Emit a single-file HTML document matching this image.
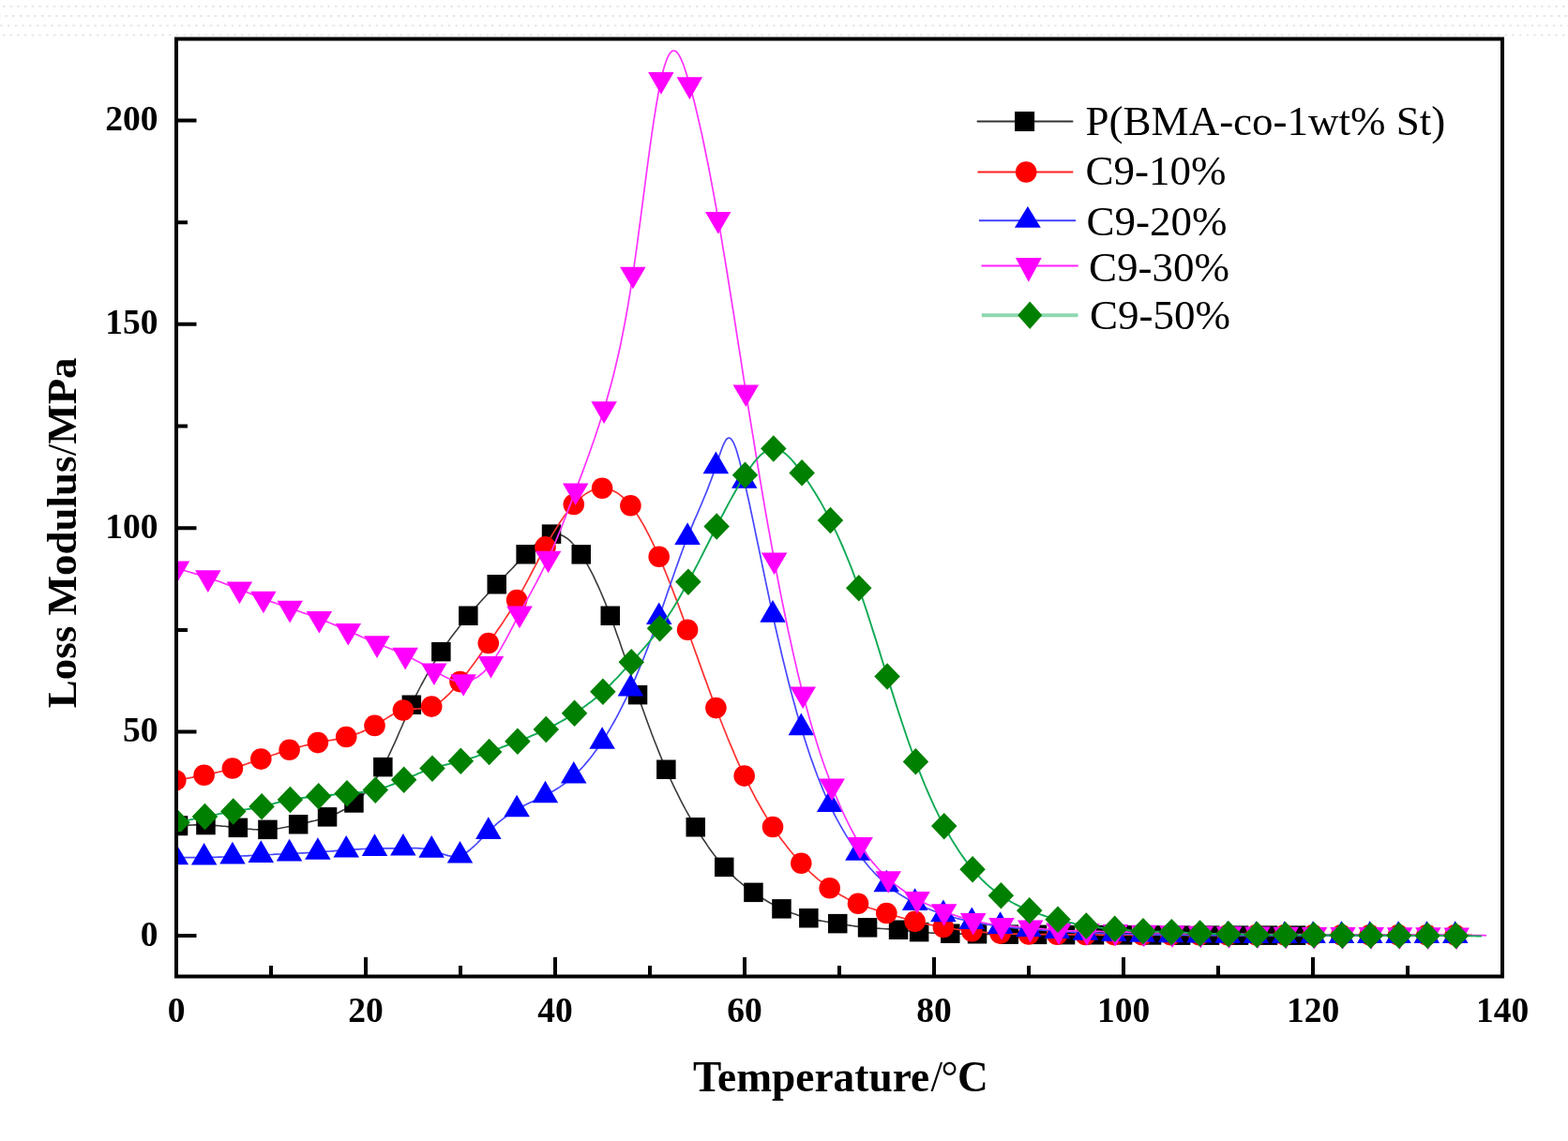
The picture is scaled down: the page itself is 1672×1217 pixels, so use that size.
<!DOCTYPE html><html><head><meta charset="utf-8"><style>html,body{margin:0;padding:0;background:#fff}svg{display:block}</style></head><body><svg width="1672" height="1217" viewBox="0 0 1672 1217">
<rect width="1672" height="1217" fill="#fff"/>
<defs><pattern id="dt" x="0" y="0" width="7.7" height="10" patternUnits="userSpaceOnUse"><rect x="2.9" y="0" width="2.4" height="2.4" fill="#e4e4e4"/></pattern></defs>
<g transform="translate(0,5.6)"><rect x="-8" y="0" width="1688" height="2.4" fill="url(#dt)"/></g>
<g transform="translate(2.6,16.0)"><rect x="-8" y="0" width="1688" height="2.4" fill="url(#dt)"/></g>
<g transform="translate(-2.6,26.2)"><rect x="-8" y="0" width="1688" height="2.4" fill="url(#dt)"/></g>
<g transform="translate(0,36.3)"><rect x="-8" y="0" width="1688" height="2.4" fill="url(#dt)"/></g>
<defs><clipPath id="pa"><rect x="188.0" y="41.5" width="1414.0" height="1000.0"/></clipPath></defs>
<g clip-path="url(#pa)">
<path d="M190.0,880.5 L192.5,880.4 L194.9,880.3 L197.4,880.2 L199.8,880.1 L202.3,880.1 L204.8,880.0 L207.2,879.9 L209.7,879.9 L212.1,879.9 L214.6,879.9 L217.0,879.9 L219.5,880.0 L222.4,880.1 L225.2,880.2 L228.1,880.4 L230.9,880.6 L233.8,880.8 L236.7,881.1 L239.5,881.3 L242.4,881.6 L245.2,881.9 L248.1,882.2 L250.9,882.6 L253.8,882.9 L256.4,883.2 L259.1,883.5 L261.7,883.8 L264.4,884.1 L267.0,884.3 L269.6,884.6 L272.3,884.8 L274.9,884.9 L277.6,885.0 L280.2,885.0 L282.9,885.0 L285.5,884.9 L288.2,884.7 L290.9,884.5 L293.7,884.1 L296.4,883.7 L299.1,883.3 L301.9,882.8 L304.6,882.3 L307.3,881.7 L310.0,881.1 L312.8,880.5 L315.5,879.9 L318.2,879.3 L320.8,878.7 L323.3,878.2 L325.9,877.6 L328.5,877.0 L331.0,876.4 L333.6,875.8 L336.2,875.2 L338.7,874.5 L341.3,873.8 L343.9,873.0 L346.4,872.2 L349.0,871.4 L351.4,870.6 L353.8,869.7 L356.1,868.7 L358.5,867.7 L360.9,866.7 L363.2,865.5 L365.6,864.2 L368.0,862.9 L370.4,861.5 L372.8,859.9 L375.1,858.3 L377.5,856.5 L380.1,854.4 L382.6,852.2 L385.2,849.8 L387.8,847.2 L390.4,844.4 L392.9,841.4 L395.5,838.2 L398.1,834.7 L400.7,831.0 L403.2,827.0 L405.8,822.7 L408.4,818.1 L410.9,813.3 L413.5,808.2 L416.0,802.9 L418.5,797.4 L421.1,791.8 L423.6,786.1 L426.1,780.3 L428.7,774.5 L431.2,768.6 L433.7,762.9 L436.3,757.2 L438.8,751.7 L441.4,746.1 L444.1,740.7 L446.7,735.5 L449.3,730.5 L452.0,725.6 L454.6,720.8 L457.2,716.2 L459.9,711.8 L462.5,707.4 L465.1,703.2 L467.8,699.1 L470.4,695.1 L472.8,691.5 L475.2,688.0 L477.6,684.6 L480.0,681.3 L482.4,678.0 L484.9,674.8 L487.3,671.7 L489.7,668.6 L492.1,665.6 L494.5,662.6 L496.9,659.7 L499.3,656.8 L501.8,653.8 L504.4,650.9 L506.9,648.0 L509.5,645.1 L512.0,642.3 L514.5,639.5 L517.1,636.7 L519.6,634.0 L522.2,631.2 L524.7,628.5 L527.3,625.9 L529.8,623.2 L532.4,620.5 L534.9,617.9 L537.5,615.2 L540.1,612.5 L542.6,609.9 L545.2,607.2 L547.8,604.6 L550.3,601.9 L552.9,599.3 L555.5,596.6 L558.0,593.9 L560.6,591.2 L562.9,588.8 L565.2,586.4 L567.5,584.0 L569.7,581.8 L572.0,579.6 L574.3,577.5 L576.6,575.7 L578.9,574.0 L581.1,572.5 L583.4,571.2 L585.7,570.3 L588.0,569.6 L590.6,569.2 L593.3,569.3 L596.0,569.8 L598.6,570.7 L601.2,572.0 L603.9,573.7 L606.5,575.7 L609.2,578.2 L611.8,581.0 L614.5,584.1 L617.1,587.6 L619.8,591.4 L622.4,595.4 L624.9,599.7 L627.5,604.3 L630.1,609.1 L632.7,614.2 L635.2,619.6 L637.8,625.2 L640.4,631.0 L643.0,637.1 L645.6,643.4 L648.1,650.0 L650.7,656.7 L653.1,663.3 L655.6,670.0 L658.0,676.9 L660.5,683.8 L662.9,690.9 L665.4,698.0 L667.8,705.2 L670.2,712.4 L672.7,719.7 L675.1,726.8 L677.6,734.0 L680.0,741.1 L682.5,748.4 L685.1,755.6 L687.6,762.6 L690.1,769.6 L692.7,776.5 L695.2,783.2 L697.7,789.8 L700.3,796.3 L702.8,802.6 L705.3,808.8 L707.9,814.9 L710.4,820.8 L713.0,826.7 L715.6,832.5 L718.2,838.1 L720.9,843.6 L723.5,848.9 L726.1,854.1 L728.7,859.1 L731.3,864.0 L733.9,868.7 L736.6,873.4 L739.2,877.9 L741.8,882.3 L744.3,886.5 L746.9,890.5 L749.4,894.5 L752.0,898.3 L754.5,902.1 L757.0,905.7 L759.6,909.2 L762.1,912.6 L764.7,915.9 L767.2,919.0 L769.8,922.0 L772.3,924.9 L774.9,927.7 L777.5,930.4 L780.1,933.0 L782.7,935.4 L785.3,937.8 L787.9,940.0 L790.5,942.2 L793.1,944.3 L795.7,946.3 L798.3,948.2 L800.9,950.1 L803.5,951.9 L806.0,953.6 L808.5,955.3 L811.0,956.9 L813.5,958.5 L816.0,960.0 L818.5,961.5 L821.0,963.0 L823.5,964.4 L826.0,965.7 L828.5,967.0 L831.0,968.2 L833.5,969.4 L835.9,970.5 L838.3,971.5 L840.7,972.5 L843.1,973.4 L845.5,974.3 L848.0,975.1 L850.4,975.9 L852.8,976.7 L855.2,977.4 L857.6,978.1 L860.0,978.7 L862.4,979.3 L865.0,979.9 L867.5,980.5 L870.1,981.0 L872.7,981.6 L875.3,982.1 L877.8,982.5 L880.4,983.0 L883.0,983.4 L885.6,983.9 L888.1,984.3 L890.7,984.7 L893.3,985.1 L895.9,985.5 L898.6,985.9 L901.2,986.3 L903.9,986.7 L906.5,987.1 L909.1,987.5 L911.8,987.9 L914.4,988.2 L917.1,988.6 L919.7,988.9 L922.4,989.1 L925.0,989.4 L927.8,989.6 L930.5,989.9 L933.2,990.0 L936.0,990.2 L938.8,990.4 L941.5,990.5 L944.2,990.7 L947.0,990.9 L949.8,991.1 L952.5,991.2 L955.2,991.5 L958.0,991.7 L959.8,991.9 L961.7,992.1 L963.5,992.3 L965.4,992.5 L967.2,992.7 L969.0,992.9 L970.9,993.1 L972.7,993.3 L974.6,993.5 L976.4,993.7 L978.3,993.9 L980.1,994.1 L982.9,994.4 L985.6,994.6 L988.4,994.8 L991.2,995.0 L993.9,995.1 L996.7,995.2 L999.5,995.4 L1002.2,995.5 L1005.0,995.6 L1007.8,995.7 L1010.5,995.7 L1013.3,995.8 L1015.7,995.9 L1018.1,995.9 L1020.5,996.0 L1022.9,996.0 L1025.3,996.1 L1027.7,996.1 L1030.0,996.1 L1032.4,996.2 L1034.8,996.2 L1037.2,996.2 L1039.6,996.3 L1042.0,996.3 L1044.8,996.3 L1047.6,996.4 L1050.5,996.4 L1053.3,996.4 L1056.1,996.4 L1058.9,996.5 L1061.7,996.5 L1064.5,996.5 L1067.3,996.5 L1070.2,996.6 L1073.0,996.6 L1075.8,996.6 L1078.3,996.6 L1080.8,996.6 L1083.3,996.7 L1085.9,996.7 L1088.4,996.7 L1090.9,996.8 L1093.4,996.8 L1095.9,996.8 L1098.5,996.8 L1101.0,996.9 L1103.5,996.9 L1106.0,996.9 L1108.5,996.9 L1111.0,996.9 L1113.5,997.0 L1116.0,997.0 L1118.5,997.0 L1121.0,997.0 L1123.5,997.0 L1126.0,997.0 L1128.5,997.1 L1131.0,997.1 L1133.5,997.1 L1136.0,997.1 L1138.6,997.1 L1141.2,997.1 L1143.8,997.2 L1146.3,997.2 L1148.9,997.2 L1151.5,997.2 L1154.1,997.2 L1156.7,997.2 L1159.2,997.3 L1161.8,997.3 L1164.4,997.3 L1167.0,997.3 L1169.5,997.3 L1172.0,997.3 L1174.5,997.3 L1177.0,997.3 L1179.5,997.4 L1182.0,997.4 L1184.5,997.4 L1187.0,997.4 L1189.5,997.4 L1192.0,997.4 L1194.5,997.4 L1197.0,997.4 L1199.6,997.4 L1202.2,997.4 L1204.8,997.4 L1207.3,997.4 L1209.9,997.4 L1212.5,997.4 L1215.1,997.5 L1217.7,997.5 L1220.2,997.5 L1222.8,997.5 L1225.4,997.5 L1228.0,997.5 L1230.6,997.5 L1233.2,997.5 L1235.8,997.5 L1238.3,997.5 L1240.9,997.5 L1243.5,997.6 L1246.1,997.6 L1248.7,997.6 L1251.2,997.6 L1253.8,997.6 L1256.4,997.6 L1259.0,997.6 L1261.6,997.6 L1264.2,997.6 L1266.8,997.6 L1269.3,997.6 L1271.9,997.6 L1274.5,997.6 L1277.1,997.6 L1279.7,997.6 L1282.2,997.6 L1284.8,997.6 L1287.4,997.6 L1290.0,997.6 L1292.6,997.6 L1295.2,997.6 L1297.8,997.6 L1300.3,997.6 L1302.9,997.6 L1305.5,997.6 L1308.1,997.6 L1310.7,997.6 L1313.2,997.6 L1315.8,997.6 L1318.4,997.6 L1321.0,997.6 L1323.6,997.6 L1326.2,997.6 L1328.8,997.6 L1331.3,997.6 L1333.9,997.6 L1336.5,997.6 L1339.1,997.6 L1341.7,997.6 L1344.2,997.6 L1346.8,997.6 L1349.4,997.6 L1352.0,997.6 L1354.5,997.6 L1357.0,997.6 L1359.5,997.6 L1362.0,997.6 L1364.5,997.6 L1367.0,997.6 L1369.5,997.6 L1372.0,997.6 L1374.5,997.6 L1377.0,997.6 L1379.5,997.6 L1382.0,997.6" fill="none" stroke="#3a3a3a" stroke-width="1.6" stroke-linejoin="round"/>
<rect x="179.8" y="870.2" width="20.5" height="20.5" fill="#000"/><rect x="209.2" y="869.8" width="20.5" height="20.5" fill="#000"/><rect x="243.6" y="872.6" width="20.5" height="20.5" fill="#000"/><rect x="275.2" y="874.6" width="20.5" height="20.5" fill="#000"/><rect x="307.9" y="869.0" width="20.5" height="20.5" fill="#000"/><rect x="338.8" y="861.1" width="20.5" height="20.5" fill="#000"/><rect x="367.2" y="846.2" width="20.5" height="20.5" fill="#000"/><rect x="398.1" y="807.9" width="20.5" height="20.5" fill="#000"/><rect x="428.6" y="741.5" width="20.5" height="20.5" fill="#000"/><rect x="460.1" y="684.9" width="20.5" height="20.5" fill="#000"/><rect x="489.1" y="646.5" width="20.5" height="20.5" fill="#000"/><rect x="519.5" y="613.0" width="20.5" height="20.5" fill="#000"/><rect x="550.4" y="581.0" width="20.5" height="20.5" fill="#000"/><rect x="577.8" y="559.4" width="20.5" height="20.5" fill="#000"/><rect x="609.5" y="581.1" width="20.5" height="20.5" fill="#000"/><rect x="640.5" y="646.5" width="20.5" height="20.5" fill="#000"/><rect x="669.8" y="730.9" width="20.5" height="20.5" fill="#000"/><rect x="700.1" y="810.5" width="20.5" height="20.5" fill="#000"/><rect x="731.5" y="872.0" width="20.5" height="20.5" fill="#000"/><rect x="762.0" y="914.6" width="20.5" height="20.5" fill="#000"/><rect x="793.2" y="941.6" width="20.5" height="20.5" fill="#000"/><rect x="823.2" y="959.1" width="20.5" height="20.5" fill="#000"/><rect x="852.1" y="969.0" width="20.5" height="20.5" fill="#000"/><rect x="883.0" y="974.9" width="20.5" height="20.5" fill="#000"/><rect x="914.8" y="979.1" width="20.5" height="20.5" fill="#000"/><rect x="947.8" y="981.5" width="20.5" height="20.5" fill="#000"/><rect x="969.9" y="983.9" width="20.5" height="20.5" fill="#000"/><rect x="1003.0" y="985.5" width="20.5" height="20.5" fill="#000"/><rect x="1031.8" y="986.0" width="20.5" height="20.5" fill="#000"/><rect x="1065.5" y="986.4" width="20.5" height="20.5" fill="#000"/><rect x="1095.8" y="986.6" width="20.5" height="20.5" fill="#000"/><rect x="1125.8" y="986.9" width="20.5" height="20.5" fill="#000"/><rect x="1156.8" y="987.0" width="20.5" height="20.5" fill="#000"/><rect x="1186.8" y="987.1" width="20.5" height="20.5" fill="#000"/><rect x="1217.8" y="987.2" width="20.5" height="20.5" fill="#000"/><rect x="1248.8" y="987.4" width="20.5" height="20.5" fill="#000"/><rect x="1279.8" y="987.4" width="20.5" height="20.5" fill="#000"/><rect x="1310.8" y="987.4" width="20.5" height="20.5" fill="#000"/><rect x="1341.8" y="987.4" width="20.5" height="20.5" fill="#000"/><rect x="1371.8" y="987.4" width="20.5" height="20.5" fill="#000"/>
<path d="M187.3,832.2 L189.8,831.8 L192.4,831.4 L194.9,830.9 L197.4,830.5 L199.9,830.1 L202.5,829.6 L205.0,829.2 L207.5,828.7 L210.0,828.3 L212.6,827.8 L215.1,827.3 L217.6,826.8 L220.1,826.3 L222.7,825.8 L225.2,825.2 L227.7,824.7 L230.3,824.1 L232.8,823.5 L235.3,822.9 L237.8,822.2 L240.4,821.6 L242.9,820.9 L245.4,820.2 L247.9,819.5 L250.5,818.8 L253.0,818.0 L255.5,817.2 L258.0,816.4 L260.6,815.6 L263.1,814.8 L265.6,813.9 L268.2,813.1 L270.7,812.2 L273.2,811.3 L275.7,810.5 L278.3,809.6 L280.8,808.7 L283.3,807.9 L285.8,807.0 L288.4,806.2 L290.9,805.3 L293.4,804.5 L295.9,803.6 L298.5,802.8 L301.0,802.0 L303.5,801.2 L306.1,800.5 L308.6,799.7 L311.1,799.0 L313.6,798.2 L316.2,797.5 L318.7,796.8 L321.2,796.2 L323.7,795.5 L326.3,794.9 L328.8,794.3 L331.3,793.7 L333.8,793.2 L336.4,792.6 L338.9,792.1 L341.4,791.6 L344.0,791.1 L346.5,790.7 L349.0,790.2 L351.5,789.7 L354.1,789.3 L356.6,788.8 L359.1,788.3 L361.6,787.8 L364.2,787.2 L366.7,786.6 L369.2,786.0 L371.7,785.3 L374.3,784.6 L376.8,783.8 L379.3,783.0 L381.9,782.1 L384.4,781.2 L386.9,780.1 L389.4,779.0 L392.0,777.9 L394.5,776.6 L397.0,775.3 L399.5,773.9 L402.1,772.4 L404.6,770.9 L407.1,769.3 L409.6,767.7 L412.2,766.1 L414.7,764.5 L417.2,763.0 L419.8,761.6 L422.3,760.4 L424.8,759.2 L427.3,758.3 L429.9,757.5 L432.4,756.9 L434.9,756.6 L437.4,756.3 L440.0,756.2 L442.5,756.1 L445.0,756.0 L447.5,755.9 L450.1,755.7 L452.6,755.5 L455.1,755.0 L457.7,754.4 L460.2,753.6 L462.7,752.5 L465.2,751.2 L467.8,749.6 L470.3,747.8 L472.8,745.8 L475.3,743.5 L477.9,741.2 L480.4,738.6 L482.9,735.9 L485.4,733.1 L488.0,730.1 L490.5,727.1 L493.0,724.0 L495.6,720.8 L498.1,717.5 L500.6,714.1 L503.1,710.7 L505.7,707.3 L508.2,703.8 L510.7,700.3 L513.2,696.7 L515.8,693.2 L518.3,689.6 L520.8,686.0 L523.3,682.4 L525.9,678.8 L528.4,675.2 L530.9,671.6 L533.5,667.9 L536.0,664.2 L538.5,660.4 L541.0,656.5 L543.6,652.5 L546.1,648.5 L548.6,644.3 L551.1,640.0 L553.7,635.6 L556.2,631.0 L558.7,626.4 L561.2,621.6 L563.8,616.9 L566.3,612.0 L568.8,607.2 L571.4,602.4 L573.9,597.5 L576.4,592.8 L578.9,588.0 L581.5,583.4 L584.0,578.9 L586.5,574.4 L589.0,570.1 L591.6,565.9 L594.1,561.9 L596.6,558.0 L599.1,554.2 L601.7,550.6 L604.2,547.2 L606.7,543.9 L609.3,540.9 L611.8,538.0 L614.3,535.3 L616.8,532.9 L619.4,530.7 L621.9,528.6 L624.4,526.9 L626.9,525.3 L629.5,523.9 L632.0,522.8 L634.5,522.0 L637.0,521.3 L639.6,520.9 L642.1,520.8 L644.6,520.9 L647.2,521.3 L649.7,521.9 L652.2,522.8 L654.7,523.9 L657.3,525.3 L659.8,526.9 L662.3,528.9 L664.8,531.0 L667.4,533.5 L669.9,536.2 L672.4,539.2 L674.9,542.5 L677.5,546.0 L680.0,549.8 L682.5,553.8 L685.1,558.1 L687.6,562.5 L690.1,567.3 L692.6,572.2 L695.2,577.3 L697.7,582.6 L700.2,588.1 L702.7,593.8 L705.3,599.6 L707.8,605.6 L710.3,611.8 L712.8,618.1 L715.4,624.5 L717.9,631.0 L720.4,637.6 L723.0,644.3 L725.5,651.1 L728.0,657.9 L730.5,664.8 L733.1,671.8 L735.6,678.8 L738.1,685.8 L740.6,692.8 L743.2,699.9 L745.7,706.9 L748.2,713.9 L750.7,720.9 L753.3,727.9 L755.8,734.8 L758.3,741.6 L760.9,748.4 L763.4,755.1 L765.9,761.7 L768.4,768.3 L771.0,774.7 L773.5,781.0 L776.0,787.3 L778.5,793.4 L781.1,799.4 L783.6,805.3 L786.1,811.1 L788.6,816.7 L791.2,822.2 L793.7,827.6 L796.2,832.8 L798.8,837.9 L801.3,842.9 L803.8,847.7 L806.3,852.5 L808.9,857.0 L811.4,861.5 L813.9,865.8 L816.4,870.0 L819.0,874.1 L821.5,878.1 L824.0,882.0 L826.5,885.8 L829.1,889.4 L831.6,893.0 L834.1,896.4 L836.7,899.8 L839.2,903.1 L841.7,906.2 L844.2,909.3 L846.8,912.3 L849.3,915.2 L851.8,918.0 L854.3,920.7 L856.9,923.3 L859.4,925.9 L861.9,928.4 L864.4,930.8 L867.0,933.1 L869.5,935.4 L872.0,937.6 L874.6,939.7 L877.1,941.7 L879.6,943.6 L882.1,945.5 L884.7,947.3 L887.2,949.0 L889.7,950.7 L892.2,952.3 L894.8,953.8 L897.3,955.2 L899.8,956.6 L902.3,958.0 L904.9,959.2 L907.4,960.5 L909.9,961.6 L912.5,962.7 L915.0,963.8 L917.5,964.8 L920.0,965.8 L922.6,966.7 L925.1,967.6 L927.6,968.5 L930.1,969.3 L932.7,970.1 L935.2,970.9 L937.7,971.7 L940.2,972.5 L942.8,973.2 L945.3,974.0 L947.8,974.8 L950.4,975.5 L952.9,976.3 L955.4,977.1 L957.9,977.8 L960.5,978.6 L963.0,979.3 L965.5,980.1 L968.0,980.8 L970.6,981.5 L973.1,982.1 L975.6,982.8 L978.1,983.4 L980.7,984.0 L983.2,984.6 L985.7,985.2 L988.3,985.7 L990.8,986.2 L993.3,986.7 L995.8,987.2 L998.4,987.7 L1000.9,988.1 L1003.4,988.6 L1005.9,989.0 L1008.5,989.4 L1011.0,989.8 L1013.5,990.2 L1016.0,990.6 L1018.6,991.0 L1021.1,991.3 L1023.6,991.7 L1026.2,992.0 L1028.7,992.3 L1031.2,992.6 L1033.7,992.9 L1036.3,993.2 L1038.8,993.5 L1041.3,993.7 L1043.8,994.0 L1046.4,994.2 L1048.9,994.4 L1051.4,994.6 L1053.9,994.8 L1056.5,995.0 L1059.0,995.2 L1061.5,995.3 L1064.1,995.5 L1066.6,995.6 L1069.1,995.7 L1071.6,995.8 L1074.2,995.9 L1076.7,996.0 L1079.2,996.1 L1081.7,996.1 L1084.3,996.2 L1086.8,996.2 L1089.3,996.3 L1091.8,996.3 L1094.4,996.4 L1096.9,996.4 L1099.4,996.4 L1102.0,996.5 L1104.5,996.5 L1107.0,996.5 L1109.5,996.6 L1112.1,996.6 L1114.6,996.7 L1117.1,996.7 L1119.6,996.7 L1122.2,996.7 L1124.7,996.8 L1127.2,996.8 L1129.7,996.8 L1132.3,996.8 L1134.8,996.9 L1137.3,996.9 L1139.9,996.9 L1142.4,996.9 L1144.9,996.9 L1147.4,997.0 L1150.0,997.0 L1152.5,997.0 L1155.0,997.0 L1157.5,997.0 L1160.1,997.0 L1162.6,997.0 L1165.1,997.0 L1167.6,997.0 L1170.2,997.0 L1172.7,997.1 L1175.2,997.1 L1177.8,997.1 L1180.3,997.1 L1182.8,997.1 L1185.3,997.1 L1187.9,997.1 L1190.4,997.1 L1192.9,997.1 L1195.4,997.1 L1198.0,997.1 L1200.5,997.1 L1203.0,997.2 L1205.5,997.2 L1208.1,997.2 L1210.6,997.2 L1213.1,997.2 L1215.7,997.2 L1218.2,997.2 L1220.7,997.2 L1223.2,997.2 L1225.8,997.2 L1228.3,997.2 L1230.8,997.2 L1233.3,997.2 L1235.9,997.2 L1238.4,997.2 L1240.9,997.2 L1243.4,997.2 L1246.0,997.2 L1248.5,997.2 L1251.0,997.2 L1253.6,997.2 L1256.1,997.2 L1258.6,997.2 L1261.1,997.2 L1263.7,997.2 L1266.2,997.3 L1268.7,997.3 L1271.2,997.3 L1273.8,997.3 L1276.3,997.3 L1278.8,997.3 L1281.3,997.3 L1283.9,997.3 L1286.4,997.3 L1288.9,997.3 L1291.5,997.3 L1294.0,997.3 L1296.5,997.3 L1299.0,997.3 L1301.6,997.3 L1304.1,997.3 L1306.6,997.3 L1309.1,997.3 L1311.7,997.3 L1314.2,997.3 L1316.7,997.3 L1319.2,997.3 L1321.8,997.3 L1324.3,997.3 L1326.8,997.3 L1329.4,997.3 L1331.9,997.3 L1334.4,997.3 L1336.9,997.3 L1339.5,997.3 L1342.0,997.3 L1344.5,997.3 L1347.0,997.3 L1349.6,997.3 L1352.1,997.3 L1354.6,997.3 L1357.1,997.3 L1359.7,997.3 L1362.2,997.3 L1364.7,997.3 L1367.3,997.3 L1369.8,997.3 L1372.3,997.3 L1374.8,997.3 L1377.4,997.3 L1379.9,997.3 L1382.4,997.3 L1384.9,997.3 L1387.5,997.3 L1390.0,997.3 L1392.5,997.3 L1395.0,997.3 L1397.6,997.3 L1400.1,997.3 L1402.6,997.3 L1405.2,997.3 L1407.7,997.3 L1410.2,997.3 L1412.7,997.3 L1415.3,997.3 L1417.8,997.3 L1420.3,997.3 L1422.8,997.3 L1425.4,997.3 L1427.9,997.3 L1430.4,997.3 L1432.9,997.3 L1435.5,997.3 L1438.0,997.3 L1440.5,997.3 L1443.1,997.3 L1445.6,997.3 L1448.1,997.3 L1450.6,997.3 L1453.2,997.3 L1455.7,997.3 L1458.2,997.3 L1460.7,997.3 L1463.3,997.3 L1465.8,997.3 L1468.3,997.3 L1470.8,997.3 L1473.4,997.3 L1475.9,997.3 L1478.4,997.3 L1481.0,997.3 L1483.5,997.3 L1486.0,997.3 L1488.5,997.3 L1491.1,997.3 L1493.6,997.3 L1496.1,997.3 L1498.6,997.3 L1501.2,997.3 L1503.7,997.3 L1506.2,997.3 L1508.7,997.3 L1511.3,997.3 L1513.8,997.3 L1516.3,997.3 L1518.9,997.3 L1521.4,997.3 L1523.9,997.3 L1526.4,997.3 L1529.0,997.3 L1531.5,997.3 L1534.0,997.3 L1536.5,997.3 L1539.1,997.3 L1541.6,997.3 L1544.1,997.3 L1546.6,997.3 L1549.2,997.3 L1551.7,997.3 L1553.2,997.3 L1554.8,997.3 L1556.3,997.3 L1557.8,997.3 L1559.3,997.3 L1560.8,997.3 L1562.4,997.4 L1563.9,997.4 L1565.4,997.4 L1567.0,997.4 L1568.5,997.4 L1570.0,997.4" fill="none" stroke="#ff3030" stroke-width="1.7" stroke-linejoin="round"/>
<circle cx="187.3" cy="832.2" r="11.3" fill="#f00"/><circle cx="217.6" cy="826.8" r="11.3" fill="#f00"/><circle cx="247.9" cy="819.5" r="11.3" fill="#f00"/><circle cx="278.3" cy="809.6" r="11.3" fill="#f00"/><circle cx="308.6" cy="799.7" r="11.3" fill="#f00"/><circle cx="338.9" cy="792.1" r="11.3" fill="#f00"/><circle cx="369.2" cy="786.0" r="11.3" fill="#f00"/><circle cx="399.5" cy="773.9" r="11.3" fill="#f00"/><circle cx="429.9" cy="757.5" r="11.3" fill="#f00"/><circle cx="460.2" cy="753.6" r="11.3" fill="#f00"/><circle cx="490.5" cy="727.1" r="11.3" fill="#f00"/><circle cx="520.8" cy="686.0" r="11.3" fill="#f00"/><circle cx="551.1" cy="640.0" r="11.3" fill="#f00"/><circle cx="581.5" cy="583.4" r="11.3" fill="#f00"/><circle cx="611.8" cy="538.0" r="11.3" fill="#f00"/><circle cx="642.1" cy="520.8" r="11.3" fill="#f00"/><circle cx="672.4" cy="539.2" r="11.3" fill="#f00"/><circle cx="702.7" cy="593.8" r="11.3" fill="#f00"/><circle cx="733.1" cy="671.8" r="11.3" fill="#f00"/><circle cx="763.4" cy="755.1" r="11.3" fill="#f00"/><circle cx="793.7" cy="827.6" r="11.3" fill="#f00"/><circle cx="824.0" cy="882.0" r="11.3" fill="#f00"/><circle cx="854.3" cy="920.7" r="11.3" fill="#f00"/><circle cx="884.7" cy="947.3" r="11.3" fill="#f00"/><circle cx="915.0" cy="963.8" r="11.3" fill="#f00"/><circle cx="945.3" cy="974.0" r="11.3" fill="#f00"/><circle cx="975.6" cy="982.8" r="11.3" fill="#f00"/><circle cx="1005.9" cy="989.0" r="11.3" fill="#f00"/><circle cx="1036.3" cy="993.2" r="11.3" fill="#f00"/><circle cx="1066.6" cy="995.6" r="11.3" fill="#f00"/><circle cx="1096.9" cy="996.4" r="11.3" fill="#f00"/><circle cx="1127.2" cy="996.8" r="11.3" fill="#f00"/><circle cx="1157.5" cy="997.0" r="11.3" fill="#f00"/><circle cx="1187.9" cy="997.1" r="11.3" fill="#f00"/><circle cx="1218.2" cy="997.2" r="11.3" fill="#f00"/><circle cx="1248.5" cy="997.2" r="11.3" fill="#f00"/><circle cx="1278.8" cy="997.3" r="11.3" fill="#f00"/><circle cx="1309.1" cy="997.3" r="11.3" fill="#f00"/><circle cx="1339.5" cy="997.3" r="11.3" fill="#f00"/><circle cx="1369.8" cy="997.3" r="11.3" fill="#f00"/><circle cx="1400.1" cy="997.3" r="11.3" fill="#f00"/><circle cx="1430.4" cy="997.3" r="11.3" fill="#f00"/><circle cx="1460.7" cy="997.3" r="11.3" fill="#f00"/><circle cx="1491.1" cy="997.3" r="11.3" fill="#f00"/><circle cx="1521.4" cy="997.3" r="11.3" fill="#f00"/><circle cx="1551.7" cy="997.3" r="11.3" fill="#f00"/>
<path d="M187.3,914.4 L189.8,914.4 L192.4,914.5 L194.9,914.5 L197.4,914.6 L199.9,914.6 L202.5,914.6 L205.0,914.6 L207.5,914.7 L210.0,914.7 L212.6,914.6 L215.1,914.6 L217.6,914.6 L220.1,914.6 L222.7,914.5 L225.2,914.4 L227.7,914.4 L230.3,914.3 L232.8,914.2 L235.3,914.1 L237.8,914.0 L240.4,913.9 L242.9,913.7 L245.4,913.6 L247.9,913.5 L250.5,913.4 L253.0,913.3 L255.5,913.1 L258.0,913.0 L260.6,912.9 L263.1,912.8 L265.6,912.6 L268.2,912.5 L270.7,912.4 L273.2,912.3 L275.7,912.1 L278.3,912.0 L280.8,911.9 L283.3,911.7 L285.8,911.6 L288.4,911.5 L290.9,911.4 L293.4,911.2 L295.9,911.1 L298.5,911.0 L301.0,910.9 L303.5,910.7 L306.1,910.6 L308.6,910.5 L311.1,910.4 L313.6,910.3 L316.2,910.1 L318.7,910.0 L321.2,909.9 L323.7,909.8 L326.3,909.6 L328.8,909.5 L331.3,909.4 L333.8,909.2 L336.4,909.1 L338.9,908.9 L341.4,908.7 L344.0,908.5 L346.5,908.4 L349.0,908.2 L351.5,908.0 L354.1,907.8 L356.6,907.6 L359.1,907.4 L361.6,907.2 L364.2,907.0 L366.7,906.8 L369.2,906.6 L371.7,906.4 L374.3,906.2 L376.8,906.1 L379.3,905.9 L381.9,905.8 L384.4,905.6 L386.9,905.5 L389.4,905.4 L392.0,905.2 L394.5,905.1 L397.0,905.1 L399.5,905.0 L402.1,904.9 L404.6,904.9 L407.1,904.9 L409.6,904.9 L412.2,904.8 L414.7,904.8 L417.2,904.8 L419.8,904.8 L422.3,904.8 L424.8,904.8 L427.3,904.7 L429.9,904.7 L432.4,904.6 L434.9,904.6 L437.4,904.6 L440.0,904.5 L442.5,904.6 L445.0,904.6 L447.5,904.8 L450.1,905.0 L452.6,905.3 L455.1,905.7 L457.7,906.2 L460.2,906.8 L462.7,907.6 L465.2,908.4 L467.8,909.3 L470.3,910.2 L472.8,911.1 L475.3,911.9 L477.9,912.6 L480.4,913.1 L482.9,913.4 L485.4,913.5 L488.0,913.2 L490.5,912.6 L493.0,911.6 L495.6,910.3 L498.1,908.7 L500.6,906.8 L503.1,904.7 L505.7,902.4 L508.2,900.0 L510.7,897.4 L513.2,894.8 L515.8,892.2 L518.3,889.6 L520.8,887.0 L523.3,884.5 L525.9,882.2 L528.4,879.9 L530.9,877.7 L533.5,875.6 L536.0,873.6 L538.5,871.7 L541.0,869.9 L543.6,868.1 L546.1,866.5 L548.6,864.9 L551.1,863.4 L553.7,862.0 L556.2,860.6 L558.7,859.3 L561.2,858.1 L563.8,856.8 L566.3,855.6 L568.8,854.5 L571.4,853.3 L573.9,852.1 L576.4,850.9 L578.9,849.7 L581.5,848.4 L584.0,847.1 L586.5,845.7 L589.0,844.3 L591.6,842.8 L594.1,841.2 L596.6,839.6 L599.1,837.9 L601.7,836.0 L604.2,834.1 L606.7,832.1 L609.3,829.9 L611.8,827.7 L614.3,825.3 L616.8,822.8 L619.4,820.2 L621.9,817.5 L624.4,814.6 L626.9,811.6 L629.5,808.5 L632.0,805.2 L634.5,801.8 L637.0,798.3 L639.6,794.7 L642.1,790.9 L644.6,787.0 L647.2,782.9 L649.7,778.7 L652.2,774.4 L654.7,770.0 L657.3,765.4 L659.8,760.6 L662.3,755.7 L664.8,750.7 L667.4,745.5 L669.9,740.2 L672.4,734.7 L674.9,729.1 L677.5,723.3 L680.0,717.4 L682.5,711.3 L685.1,705.1 L687.6,698.8 L690.1,692.4 L692.6,685.8 L695.2,679.1 L697.7,672.2 L700.2,665.3 L702.7,658.2 L705.3,651.0 L707.8,643.8 L710.3,636.4 L712.8,629.1 L715.4,621.8 L717.9,614.5 L720.4,607.2 L723.0,600.1 L725.5,593.0 L728.0,586.2 L730.5,579.5 L733.1,573.0 L735.6,566.7 L738.1,560.7 L740.6,554.7 L743.2,548.9 L745.7,543.0 L748.2,537.1 L750.7,531.0 L753.3,524.9 L755.8,518.4 L758.3,511.8 L760.9,504.7 L763.4,497.3 L764.5,493.8 L765.7,490.3 L766.8,486.9 L767.9,483.5 L769.1,480.3 L770.2,477.2 L771.3,474.5 L772.5,472.1 L773.6,470.1 L774.7,468.5 L775.9,467.5 L777.0,467.0 L778.4,467.3 L779.8,468.4 L781.2,470.4 L782.6,473.1 L784.0,476.5 L785.4,480.5 L786.7,485.0 L788.1,489.9 L789.5,495.3 L790.9,500.9 L792.3,506.8 L793.7,512.9 L796.2,524.2 L798.8,535.7 L801.3,547.5 L803.8,559.4 L806.3,571.5 L808.9,583.7 L811.4,595.9 L813.9,608.0 L816.4,620.2 L819.0,632.2 L821.5,644.1 L824.0,655.8 L826.5,667.3 L829.1,678.5 L831.6,689.4 L834.1,700.2 L836.7,710.6 L839.2,720.8 L841.7,730.7 L844.2,740.4 L846.8,749.8 L849.3,758.9 L851.8,767.7 L854.3,776.3 L856.9,784.6 L859.4,792.6 L861.9,800.3 L864.4,807.7 L867.0,814.9 L869.5,821.8 L872.0,828.5 L874.6,834.9 L877.1,841.1 L879.6,847.0 L882.1,852.7 L884.7,858.2 L887.2,863.5 L889.7,868.5 L892.2,873.4 L894.8,878.1 L897.3,882.6 L899.8,886.9 L902.3,891.1 L904.9,895.1 L907.4,899.0 L909.9,902.7 L912.5,906.3 L915.0,909.8 L917.5,913.2 L920.0,916.5 L922.6,919.6 L925.1,922.7 L927.6,925.7 L930.1,928.5 L932.7,931.3 L935.2,933.9 L937.7,936.5 L940.2,938.9 L942.8,941.2 L945.3,943.4 L947.8,945.5 L950.4,947.5 L952.9,949.4 L955.4,951.2 L957.9,952.9 L960.5,954.5 L963.0,956.1 L965.5,957.6 L968.0,959.0 L970.6,960.4 L973.1,961.7 L975.6,963.0 L978.1,964.2 L980.7,965.4 L983.2,966.6 L985.7,967.7 L988.3,968.8 L990.8,969.8 L993.3,970.8 L995.8,971.8 L998.4,972.7 L1000.9,973.6 L1003.4,974.5 L1005.9,975.3 L1008.5,976.1 L1011.0,976.9 L1013.5,977.6 L1016.0,978.3 L1018.6,979.0 L1021.1,979.7 L1023.6,980.3 L1026.2,980.9 L1028.7,981.5 L1031.2,982.0 L1033.7,982.6 L1036.3,983.1 L1038.8,983.6 L1041.3,984.1 L1043.8,984.6 L1046.4,985.0 L1048.9,985.4 L1051.4,985.8 L1053.9,986.2 L1056.5,986.6 L1059.0,987.0 L1061.5,987.3 L1064.1,987.7 L1066.6,988.0 L1069.1,988.3 L1071.6,988.6 L1074.2,988.9 L1076.7,989.2 L1079.2,989.4 L1081.7,989.7 L1084.3,989.9 L1086.8,990.1 L1089.3,990.4 L1091.8,990.6 L1094.4,990.8 L1096.9,991.0 L1099.4,991.2 L1102.0,991.4 L1104.5,991.6 L1107.0,991.8 L1109.5,992.0 L1112.1,992.2 L1114.6,992.3 L1117.1,992.5 L1119.6,992.7 L1122.2,992.9 L1124.7,993.0 L1127.2,993.2 L1129.7,993.4 L1132.3,993.5 L1134.8,993.7 L1137.3,993.8 L1139.9,994.0 L1142.4,994.1 L1144.9,994.3 L1147.4,994.4 L1150.0,994.5 L1152.5,994.7 L1155.0,994.8 L1157.5,994.9 L1160.1,995.0 L1162.6,995.1 L1165.1,995.2 L1167.6,995.3 L1170.2,995.4 L1172.7,995.5 L1175.2,995.6 L1177.8,995.7 L1180.3,995.8 L1182.8,995.8 L1185.3,995.9 L1187.9,996.0 L1190.4,996.1 L1192.9,996.2 L1195.4,996.2 L1198.0,996.3 L1200.5,996.4 L1203.0,996.4 L1205.5,996.5 L1208.1,996.6 L1210.6,996.6 L1213.1,996.7 L1215.7,996.7 L1218.2,996.8 L1220.7,996.9 L1223.2,996.9 L1225.8,997.0 L1228.3,997.0 L1230.8,997.0 L1233.3,997.1 L1235.9,997.1 L1238.4,997.2 L1240.9,997.2 L1243.4,997.2 L1246.0,997.3 L1248.5,997.3 L1251.0,997.3 L1253.6,997.4 L1256.1,997.4 L1258.6,997.4 L1261.1,997.4 L1263.7,997.5 L1266.2,997.5 L1268.7,997.5 L1271.2,997.5 L1273.8,997.6 L1276.3,997.6 L1278.8,997.6 L1281.3,997.6 L1283.9,997.6 L1286.4,997.7 L1288.9,997.7 L1291.5,997.7 L1294.0,997.7 L1296.5,997.7 L1299.0,997.7 L1301.6,997.7 L1304.1,997.8 L1306.6,997.8 L1309.1,997.8 L1311.7,997.8 L1314.2,997.8 L1316.7,997.9 L1319.2,997.9 L1321.8,997.9 L1324.3,997.9 L1326.8,997.9 L1329.4,997.9 L1331.9,998.0 L1334.4,998.0 L1336.9,998.0 L1339.5,998.0 L1342.0,998.0 L1344.5,998.0 L1347.0,998.0 L1349.6,998.0 L1352.1,998.0 L1354.6,998.0 L1357.1,998.0 L1359.7,998.0 L1362.2,998.0 L1364.7,998.0 L1367.3,998.0 L1369.8,998.0 L1372.3,998.0 L1374.8,998.0 L1377.4,998.0 L1379.9,998.0 L1382.4,998.0 L1384.9,998.0 L1387.5,998.0 L1390.0,998.0 L1392.5,998.0 L1395.0,998.0 L1397.6,998.0 L1400.1,998.0 L1402.6,998.0 L1405.2,998.0 L1407.7,998.0 L1410.2,998.0 L1412.7,998.0 L1415.3,998.0 L1417.8,998.0 L1420.3,998.0 L1422.8,998.0 L1425.4,998.0 L1427.9,998.0 L1430.4,998.0 L1432.9,998.0 L1435.5,998.0 L1438.0,998.0 L1440.5,998.0 L1443.1,998.0 L1445.6,998.0 L1448.1,998.0 L1450.6,998.0 L1453.2,998.0 L1455.7,998.0 L1458.2,998.0 L1460.7,998.0 L1463.3,998.0 L1465.8,998.0 L1468.3,998.0 L1470.8,998.0 L1473.4,998.0 L1475.9,998.0 L1478.4,998.0 L1481.0,998.0 L1483.5,998.0 L1486.0,998.0 L1488.5,998.0 L1491.1,998.0 L1493.6,998.0 L1496.1,998.0 L1498.6,998.0 L1501.2,998.0 L1503.7,998.0 L1506.2,998.0 L1508.7,998.0 L1511.3,998.0 L1513.8,998.0 L1516.3,998.0 L1518.9,998.0 L1521.4,998.0 L1523.9,998.0 L1526.4,998.0 L1529.0,998.0 L1531.5,998.0 L1534.0,998.0 L1536.5,998.0 L1539.1,998.0 L1541.6,998.0 L1544.1,998.0 L1546.6,998.0 L1549.2,998.0 L1551.7,998.0 L1553.1,998.0 L1554.4,998.0 L1555.8,998.0 L1557.1,998.0 L1558.5,998.0 L1559.8,998.0 L1561.2,998.0 L1562.6,998.0 L1563.9,998.0 L1565.3,998.0 L1566.6,998.0 L1568.0,998.0" fill="none" stroke="#4848ff" stroke-width="1.7" stroke-linejoin="round"/>
<path d="M187.3,898.7 L201.1,922.3 L173.6,922.3Z" fill="#00f"/><path d="M217.6,898.9 L231.4,922.5 L203.9,922.5Z" fill="#00f"/><path d="M247.9,897.8 L261.7,921.4 L234.2,921.4Z" fill="#00f"/><path d="M278.3,896.3 L292.0,919.9 L264.5,919.9Z" fill="#00f"/><path d="M308.6,894.8 L322.3,918.4 L294.8,918.4Z" fill="#00f"/><path d="M338.9,893.2 L352.6,916.8 L325.1,916.8Z" fill="#00f"/><path d="M369.2,890.9 L383.0,914.5 L355.5,914.5Z" fill="#00f"/><path d="M399.5,889.3 L413.3,912.9 L385.8,912.9Z" fill="#00f"/><path d="M429.9,889.0 L443.6,912.6 L416.1,912.6Z" fill="#00f"/><path d="M460.2,891.1 L473.9,914.7 L446.4,914.7Z" fill="#00f"/><path d="M490.5,896.9 L504.2,920.5 L476.8,920.5Z" fill="#00f"/><path d="M520.8,871.3 L534.6,894.9 L507.1,894.9Z" fill="#00f"/><path d="M551.1,847.7 L564.9,871.3 L537.4,871.3Z" fill="#00f"/><path d="M581.5,832.7 L595.2,856.3 L567.7,856.3Z" fill="#00f"/><path d="M611.8,812.0 L625.5,835.6 L598.0,835.6Z" fill="#00f"/><path d="M642.1,775.2 L655.9,798.8 L628.4,798.8Z" fill="#00f"/><path d="M672.4,719.0 L686.2,742.6 L658.7,742.6Z" fill="#00f"/><path d="M702.7,642.5 L716.5,666.1 L689.0,666.1Z" fill="#00f"/><path d="M733.1,557.3 L746.8,580.9 L719.3,580.9Z" fill="#00f"/><path d="M763.4,481.6 L777.1,505.2 L749.6,505.2Z" fill="#00f"/><path d="M793.7,497.2 L807.5,520.8 L780.0,520.8Z" fill="#00f"/><path d="M824.0,640.1 L837.8,663.7 L810.3,663.7Z" fill="#00f"/><path d="M854.3,760.6 L868.1,784.2 L840.6,784.2Z" fill="#00f"/><path d="M884.7,842.5 L898.4,866.1 L870.9,866.1Z" fill="#00f"/><path d="M915.0,894.1 L928.7,917.7 L901.2,917.7Z" fill="#00f"/><path d="M945.3,927.7 L959.0,951.3 L931.5,951.3Z" fill="#00f"/><path d="M975.6,947.3 L989.4,970.9 L961.9,970.9Z" fill="#00f"/><path d="M1005.9,959.6 L1019.7,983.2 L992.2,983.2Z" fill="#00f"/><path d="M1036.3,967.4 L1050.0,991.0 L1022.5,991.0Z" fill="#00f"/><path d="M1066.6,972.3 L1080.3,995.9 L1052.8,995.9Z" fill="#00f"/><path d="M1096.9,975.3 L1110.7,998.9 L1083.2,998.9Z" fill="#00f"/><path d="M1127.2,977.5 L1141.0,1001.1 L1113.5,1001.1Z" fill="#00f"/><path d="M1157.5,979.2 L1171.3,1002.8 L1143.8,1002.8Z" fill="#00f"/><path d="M1187.9,980.3 L1201.6,1003.9 L1174.1,1003.9Z" fill="#00f"/><path d="M1218.2,981.1 L1231.9,1004.7 L1204.4,1004.7Z" fill="#00f"/><path d="M1248.5,981.6 L1262.2,1005.2 L1234.8,1005.2Z" fill="#00f"/><path d="M1278.8,981.9 L1292.6,1005.5 L1265.1,1005.5Z" fill="#00f"/><path d="M1309.1,982.1 L1322.9,1005.7 L1295.4,1005.7Z" fill="#00f"/><path d="M1339.5,982.3 L1353.2,1005.9 L1325.7,1005.9Z" fill="#00f"/><path d="M1369.8,982.3 L1383.5,1005.9 L1356.0,1005.9Z" fill="#00f"/><path d="M1400.1,982.3 L1413.8,1005.9 L1386.3,1005.9Z" fill="#00f"/><path d="M1430.4,982.3 L1444.2,1005.9 L1416.7,1005.9Z" fill="#00f"/><path d="M1460.7,982.3 L1474.5,1005.9 L1447.0,1005.9Z" fill="#00f"/><path d="M1491.1,982.3 L1504.8,1005.9 L1477.3,1005.9Z" fill="#00f"/><path d="M1521.4,982.3 L1535.1,1005.9 L1507.6,1005.9Z" fill="#00f"/><path d="M1551.7,982.3 L1565.5,1005.9 L1538.0,1005.9Z" fill="#00f"/>
<path d="M188.6,606.3 L191.4,607.1 L194.1,607.9 L196.9,608.7 L199.7,609.5 L202.4,610.3 L205.2,611.1 L208.0,611.9 L210.7,612.7 L213.5,613.6 L216.3,614.4 L219.0,615.3 L221.8,616.2 L224.6,617.1 L227.4,618.1 L230.2,619.1 L233.0,620.0 L235.8,621.0 L238.6,622.1 L241.4,623.1 L244.2,624.2 L247.0,625.2 L249.8,626.3 L252.6,627.4 L255.4,628.5 L257.5,629.3 L259.6,630.2 L261.8,631.0 L263.9,631.9 L266.0,632.7 L268.1,633.6 L270.3,634.4 L272.4,635.3 L274.5,636.1 L276.6,637.0 L278.8,637.8 L280.9,638.6 L283.2,639.5 L285.6,640.4 L287.9,641.2 L290.3,642.1 L292.6,642.9 L295.0,643.8 L297.4,644.6 L299.7,645.4 L302.1,646.3 L304.4,647.1 L306.8,647.9 L309.1,648.7 L311.7,649.6 L314.3,650.5 L316.9,651.4 L319.5,652.3 L322.1,653.2 L324.8,654.1 L327.4,655.0 L330.0,655.9 L332.6,656.9 L335.2,657.8 L337.8,658.8 L340.4,659.8 L343.0,660.8 L345.5,661.8 L348.1,662.9 L350.7,664.0 L353.3,665.0 L355.9,666.1 L358.4,667.2 L361.0,668.4 L363.6,669.5 L366.1,670.6 L368.7,671.8 L371.3,672.9 L373.9,674.0 L376.4,675.2 L379.0,676.3 L381.5,677.4 L384.1,678.6 L386.6,679.7 L389.2,680.8 L391.8,681.9 L394.3,683.0 L396.9,684.1 L399.4,685.2 L402.0,686.2 L404.5,687.2 L407.0,688.2 L409.6,689.2 L412.1,690.2 L414.6,691.2 L417.1,692.2 L419.6,693.2 L422.1,694.3 L424.6,695.3 L427.2,696.4 L429.7,697.5 L432.2,698.7 L434.8,699.9 L437.3,701.2 L439.9,702.5 L442.4,703.9 L445.0,705.2 L447.5,706.6 L450.1,708.1 L452.7,709.5 L455.2,711.0 L457.8,712.4 L460.3,713.9 L462.9,715.4 L465.5,716.9 L468.1,718.4 L470.7,719.8 L473.3,721.2 L475.9,722.5 L478.5,723.7 L481.2,724.7 L483.8,725.6 L486.4,726.3 L489.0,726.8 L491.6,727.1 L494.2,727.1 L496.6,726.9 L499.1,726.4 L501.5,725.8 L504.0,724.8 L506.4,723.6 L508.9,722.2 L511.3,720.5 L513.7,718.5 L516.2,716.3 L518.6,713.8 L521.1,711.0 L523.5,707.9 L526.0,704.4 L528.6,700.6 L531.1,696.6 L533.7,692.4 L536.2,687.9 L538.8,683.4 L541.3,678.7 L543.8,673.9 L546.4,669.0 L548.9,664.2 L551.5,659.3 L554.0,654.5 L556.5,649.7 L559.1,645.0 L561.6,640.3 L564.2,635.6 L566.8,630.9 L569.3,626.2 L571.9,621.4 L574.4,616.5 L577.0,611.5 L579.5,606.4 L582.1,601.1 L584.6,595.6 L587.0,590.2 L589.5,584.7 L591.9,579.0 L594.3,573.1 L596.7,567.2 L599.2,561.1 L601.6,555.0 L604.0,548.7 L606.4,542.4 L608.9,536.1 L611.3,529.7 L613.7,523.3 L616.2,516.6 L618.8,509.9 L621.3,503.1 L623.8,496.2 L626.4,489.3 L628.9,482.2 L631.4,475.0 L634.0,467.7 L636.5,460.1 L639.0,452.4 L641.6,444.4 L644.1,436.2 L646.7,427.6 L649.2,418.6 L651.8,409.2 L654.4,399.3 L656.9,388.8 L659.5,377.7 L662.1,365.8 L664.6,353.1 L667.2,339.5 L669.8,324.9 L672.3,309.3 L674.9,292.6 L677.4,275.2 L679.9,257.0 L682.4,238.1 L684.9,218.9 L687.4,199.6 L689.9,180.5 L692.4,161.9 L694.9,144.0 L697.4,127.1 L699.9,111.5 L702.4,97.3 L704.9,85.0 L706.0,80.1 L707.1,75.7 L708.2,71.6 L709.4,68.0 L710.5,64.8 L711.6,62.0 L712.7,59.6 L713.8,57.7 L714.9,56.1 L716.1,55.0 L717.2,54.3 L718.3,54.0 L719.7,54.3 L721.1,55.1 L722.6,56.6 L724.0,58.7 L725.4,61.3 L726.8,64.3 L728.3,67.8 L729.7,71.7 L731.1,75.9 L732.5,80.4 L734.0,85.2 L735.4,90.2 L737.9,99.5 L740.5,109.3 L743.0,119.7 L745.5,130.6 L748.1,141.9 L750.6,153.7 L753.1,166.0 L755.7,178.7 L758.2,191.9 L760.7,205.4 L763.3,219.4 L765.8,233.8 L768.3,248.2 L770.7,262.8 L773.2,277.8 L775.7,293.0 L778.1,308.4 L780.6,323.9 L783.1,339.6 L785.5,355.3 L788.0,371.1 L790.5,386.9 L792.9,402.7 L795.4,418.4 L797.9,434.3 L800.4,450.0 L803.0,465.7 L805.5,481.1 L808.0,496.4 L810.5,511.5 L813.0,526.4 L815.5,541.1 L818.0,555.5 L820.6,569.7 L823.1,583.7 L825.6,597.4 L828.1,611.0 L830.7,624.3 L833.2,637.3 L835.8,650.0 L838.4,662.5 L840.9,674.6 L843.5,686.3 L846.0,697.8 L848.6,708.9 L851.1,719.7 L853.7,730.2 L856.2,740.3 L858.8,750.2 L861.4,759.7 L863.9,768.9 L866.5,777.7 L869.1,786.3 L871.7,794.5 L874.2,802.5 L876.8,810.2 L879.4,817.7 L882.0,824.8 L884.5,831.8 L887.1,838.5 L889.6,844.8 L892.1,850.9 L894.6,856.8 L897.1,862.5 L899.6,868.0 L902.1,873.3 L904.6,878.4 L907.1,883.3 L909.6,888.0 L912.1,892.5 L914.6,896.8 L917.1,900.9 L919.6,904.8 L922.1,908.5 L924.6,912.1 L927.1,915.4 L929.6,918.6 L932.2,921.6 L934.7,924.5 L937.2,927.3 L939.7,929.9 L942.2,932.4 L944.7,934.8 L947.2,937.1 L949.8,939.4 L952.3,941.5 L954.9,943.6 L957.5,945.6 L960.0,947.5 L962.6,949.3 L965.2,951.1 L967.7,952.8 L970.3,954.4 L972.9,955.9 L975.4,957.5 L978.0,958.9 L980.4,960.2 L982.8,961.5 L985.1,962.7 L987.5,963.9 L989.9,965.0 L992.3,966.1 L994.7,967.2 L997.1,968.2 L999.5,969.2 L1001.8,970.2 L1004.2,971.2 L1006.6,972.1 L1009.2,973.1 L1011.8,974.0 L1014.4,975.0 L1017.0,975.9 L1019.6,976.7 L1022.2,977.6 L1024.8,978.4 L1027.4,979.1 L1030.0,979.9 L1032.6,980.6 L1035.2,981.3 L1037.8,981.9 L1040.3,982.5 L1042.8,983.0 L1045.3,983.6 L1047.9,984.1 L1050.4,984.5 L1052.9,985.0 L1055.4,985.4 L1057.9,985.7 L1060.5,986.1 L1063.0,986.4 L1065.5,986.7 L1068.0,987.0 L1070.6,987.3 L1073.1,987.5 L1075.7,987.7 L1078.2,987.9 L1080.8,988.1 L1083.3,988.3 L1085.9,988.5 L1088.5,988.7 L1091.0,988.9 L1093.6,989.1 L1096.1,989.3 L1098.7,989.5 L1101.2,989.7 L1103.7,990.0 L1106.2,990.2 L1108.8,990.5 L1111.3,990.7 L1113.8,991.0 L1116.3,991.2 L1118.8,991.5 L1121.4,991.7 L1123.9,991.9 L1126.4,992.1 L1128.9,992.3 L1131.4,992.4 L1133.9,992.6 L1136.4,992.7 L1138.9,992.8 L1141.4,992.8 L1144.0,992.9 L1146.5,992.9 L1149.0,993.0 L1151.5,993.0 L1154.0,993.0 L1156.5,993.1 L1159.0,993.1 L1161.5,993.1 L1164.1,993.2 L1166.6,993.3 L1169.1,993.3 L1171.7,993.4 L1174.2,993.5 L1176.7,993.5 L1179.2,993.6 L1181.8,993.7 L1184.3,993.8 L1186.8,993.8 L1189.4,993.9 L1191.9,994.0 L1194.4,994.0 L1196.9,994.1 L1199.5,994.2 L1202.0,994.2 L1204.5,994.3 L1207.0,994.3 L1209.6,994.4 L1212.1,994.4 L1214.6,994.5 L1217.2,994.5 L1219.7,994.6 L1222.2,994.7 L1224.7,994.7 L1227.3,994.8 L1229.8,994.8 L1232.3,994.9 L1234.8,994.9 L1237.4,995.0 L1239.9,995.0 L1242.4,995.1 L1244.9,995.1 L1247.5,995.2 L1250.0,995.2 L1252.5,995.2 L1255.1,995.3 L1257.6,995.3 L1260.1,995.4 L1262.6,995.4 L1265.2,995.5 L1267.7,995.5 L1270.2,995.5 L1272.7,995.6 L1275.3,995.6 L1277.8,995.7 L1280.3,995.7 L1282.8,995.7 L1285.4,995.8 L1287.9,995.8 L1290.4,995.8 L1293.0,995.9 L1295.5,995.9 L1298.0,995.9 L1300.5,996.0 L1303.1,996.0 L1305.6,996.0 L1308.1,996.1 L1310.6,996.1 L1313.2,996.1 L1315.7,996.2 L1318.2,996.2 L1320.7,996.2 L1323.3,996.2 L1325.8,996.3 L1328.3,996.3 L1330.9,996.3 L1333.4,996.3 L1335.9,996.4 L1338.4,996.4 L1341.0,996.4 L1343.5,996.4 L1346.0,996.4 L1348.5,996.5 L1351.1,996.5 L1353.6,996.5 L1356.1,996.5 L1358.6,996.5 L1361.2,996.5 L1363.7,996.6 L1366.2,996.6 L1368.8,996.6 L1371.3,996.6 L1373.8,996.6 L1376.3,996.6 L1378.9,996.7 L1381.4,996.7 L1383.9,996.7 L1386.4,996.7 L1389.0,996.7 L1391.5,996.7 L1394.0,996.8 L1396.5,996.8 L1399.1,996.8 L1401.6,996.8 L1404.1,996.8 L1406.7,996.8 L1409.2,996.8 L1411.7,996.8 L1414.2,996.9 L1416.8,996.9 L1419.3,996.9 L1421.8,996.9 L1424.3,996.9 L1426.9,996.9 L1429.4,996.9 L1431.9,996.9 L1434.4,996.9 L1437.0,996.9 L1439.5,996.9 L1442.0,996.9 L1444.6,996.9 L1447.1,996.9 L1449.6,997.0 L1452.1,997.0 L1454.7,997.0 L1457.2,997.0 L1459.7,997.0 L1462.2,997.0 L1464.8,997.0 L1467.3,997.0 L1469.8,997.0 L1472.3,997.0 L1474.9,997.0 L1477.4,997.0 L1479.9,997.1 L1482.5,997.1 L1485.0,997.1 L1487.5,997.1 L1490.0,997.1 L1492.6,997.1 L1495.1,997.1 L1497.6,997.1 L1500.1,997.1 L1502.7,997.1 L1505.2,997.1 L1507.7,997.2 L1510.2,997.2 L1512.8,997.2 L1515.3,997.2 L1517.8,997.2 L1520.4,997.2 L1522.9,997.2 L1525.4,997.2 L1527.9,997.2 L1530.5,997.2 L1533.0,997.2 L1535.5,997.2 L1538.0,997.2 L1540.6,997.2 L1543.1,997.2 L1545.6,997.2 L1548.1,997.3 L1550.7,997.3 L1553.2,997.3 L1555.9,997.3 L1558.5,997.4 L1561.2,997.4 L1563.8,997.4 L1566.5,997.5 L1569.1,997.5 L1571.8,997.6 L1574.4,997.6 L1577.0,997.6 L1579.7,997.7 L1582.3,997.7 L1585.0,997.8" fill="none" stroke="#ff30ff" stroke-width="1.7" stroke-linejoin="round"/>
<path d="M174.8,598.4 L202.3,598.4 L188.6,622.0Z" fill="#f0f"/><path d="M208.1,608.3 L235.6,608.3 L221.8,631.9Z" fill="#f0f"/><path d="M241.7,620.6 L269.1,620.6 L255.4,644.2Z" fill="#f0f"/><path d="M267.1,630.7 L294.6,630.7 L280.9,654.3Z" fill="#f0f"/><path d="M295.4,640.8 L322.9,640.8 L309.1,664.4Z" fill="#f0f"/><path d="M326.6,651.9 L354.1,651.9 L340.4,675.5Z" fill="#f0f"/><path d="M357.6,665.0 L385.1,665.0 L371.3,688.6Z" fill="#f0f"/><path d="M388.2,678.3 L415.8,678.3 L402.0,701.9Z" fill="#f0f"/><path d="M418.4,690.8 L445.9,690.8 L432.2,714.4Z" fill="#f0f"/><path d="M449.1,707.5 L476.6,707.5 L462.9,731.1Z" fill="#f0f"/><path d="M480.4,719.2 L507.9,719.2 L494.2,742.8Z" fill="#f0f"/><path d="M509.8,700.0 L537.2,700.0 L523.5,723.6Z" fill="#f0f"/><path d="M540.2,646.6 L567.8,646.6 L554.0,670.2Z" fill="#f0f"/><path d="M570.9,587.7 L598.4,587.7 L584.6,611.3Z" fill="#f0f"/><path d="M600.0,515.4 L627.5,515.4 L613.7,539.0Z" fill="#f0f"/><path d="M630.4,428.3 L657.9,428.3 L644.1,451.9Z" fill="#f0f"/><path d="M661.1,284.7 L688.6,284.7 L674.9,308.3Z" fill="#f0f"/><path d="M691.1,77.1 L718.6,77.1 L704.9,100.7Z" fill="#f0f"/><path d="M721.6,82.3 L749.1,82.3 L735.4,105.9Z" fill="#f0f"/><path d="M752.0,225.9 L779.5,225.9 L765.8,249.5Z" fill="#f0f"/><path d="M781.6,410.5 L809.1,410.5 L795.4,434.1Z" fill="#f0f"/><path d="M811.9,589.5 L839.4,589.5 L825.6,613.1Z" fill="#f0f"/><path d="M842.5,732.4 L870.0,732.4 L856.2,756.0Z" fill="#f0f"/><path d="M873.4,830.6 L900.9,830.6 L887.1,854.2Z" fill="#f0f"/><path d="M903.4,893.0 L930.9,893.0 L917.1,916.6Z" fill="#f0f"/><path d="M933.5,929.2 L961.0,929.2 L947.2,952.8Z" fill="#f0f"/><path d="M964.2,951.0 L991.8,951.0 L978.0,974.6Z" fill="#f0f"/><path d="M992.9,964.2 L1020.4,964.2 L1006.6,987.8Z" fill="#f0f"/><path d="M1024.0,974.0 L1051.5,974.0 L1037.8,997.6Z" fill="#f0f"/><path d="M1054.2,979.1 L1081.8,979.1 L1068.0,1002.7Z" fill="#f0f"/><path d="M1085.0,981.6 L1112.5,981.6 L1098.7,1005.2Z" fill="#f0f"/><path d="M1115.2,984.4 L1142.7,984.4 L1128.9,1008.0Z" fill="#f0f"/><path d="M1145.2,985.2 L1172.8,985.2 L1159.0,1008.8Z" fill="#f0f"/><path d="M1175.6,986.0 L1203.1,986.0 L1189.4,1009.6Z" fill="#f0f"/><path d="M1205.9,986.7 L1233.4,986.7 L1219.7,1010.3Z" fill="#f0f"/><path d="M1236.2,987.3 L1263.8,987.3 L1250.0,1010.9Z" fill="#f0f"/><path d="M1266.6,987.8 L1294.1,987.8 L1280.3,1011.4Z" fill="#f0f"/><path d="M1296.9,988.2 L1324.4,988.2 L1310.6,1011.8Z" fill="#f0f"/><path d="M1327.2,988.5 L1354.7,988.5 L1341.0,1012.1Z" fill="#f0f"/><path d="M1357.5,988.7 L1385.0,988.7 L1371.3,1012.3Z" fill="#f0f"/><path d="M1387.8,988.9 L1415.3,988.9 L1401.6,1012.5Z" fill="#f0f"/><path d="M1418.2,989.0 L1445.7,989.0 L1431.9,1012.6Z" fill="#f0f"/><path d="M1448.5,989.1 L1476.0,989.1 L1462.2,1012.7Z" fill="#f0f"/><path d="M1478.8,989.2 L1506.3,989.2 L1492.6,1012.8Z" fill="#f0f"/><path d="M1509.1,989.3 L1536.6,989.3 L1522.9,1012.9Z" fill="#f0f"/><path d="M1539.5,989.4 L1567.0,989.4 L1553.2,1013.0Z" fill="#f0f"/>
<path d="M189.0,877.3 L191.5,876.8 L193.9,876.2 L196.4,875.7 L198.8,875.1 L201.3,874.6 L203.7,874.1 L206.2,873.6 L208.6,873.0 L211.1,872.5 L213.5,872.0 L216.0,871.5 L218.4,871.0 L220.9,870.5 L223.5,870.0 L226.0,869.5 L228.5,869.0 L231.1,868.6 L233.6,868.1 L236.1,867.6 L238.6,867.2 L241.2,866.7 L243.7,866.3 L246.2,865.9 L248.7,865.5 L251.3,865.1 L253.8,864.7 L256.3,864.3 L258.8,863.9 L261.4,863.5 L263.9,863.1 L266.4,862.7 L269.0,862.3 L271.5,861.8 L274.0,861.4 L276.5,860.8 L279.1,860.3 L281.6,859.7 L284.1,859.1 L286.6,858.5 L289.2,857.8 L291.7,857.2 L294.2,856.5 L296.7,855.9 L299.3,855.3 L301.8,854.6 L304.3,854.1 L306.9,853.5 L309.4,853.0 L311.9,852.5 L314.4,852.1 L317.0,851.7 L319.5,851.4 L322.0,851.1 L324.5,850.8 L327.1,850.5 L329.6,850.3 L332.1,850.0 L334.6,849.8 L337.2,849.5 L339.7,849.3 L342.2,849.0 L344.8,848.8 L347.3,848.5 L349.8,848.2 L352.3,848.0 L354.9,847.7 L357.4,847.4 L359.9,847.2 L362.4,846.9 L365.0,846.7 L367.5,846.4 L370.0,846.2 L372.5,846.0 L375.1,845.8 L377.6,845.6 L380.1,845.4 L382.7,845.2 L385.2,845.0 L387.7,844.7 L390.2,844.4 L392.8,844.0 L395.3,843.6 L397.8,843.1 L400.3,842.6 L402.9,842.0 L405.4,841.3 L407.9,840.5 L410.4,839.7 L413.0,838.8 L415.5,837.9 L418.0,837.0 L420.6,836.0 L423.1,834.9 L425.6,833.9 L428.1,832.8 L430.7,831.7 L433.2,830.6 L435.7,829.5 L438.2,828.4 L440.8,827.3 L443.3,826.3 L445.8,825.2 L448.3,824.2 L450.9,823.2 L453.4,822.2 L455.9,821.3 L458.5,820.4 L461.0,819.6 L463.5,818.8 L466.0,818.1 L468.6,817.4 L471.1,816.7 L473.6,816.1 L476.1,815.5 L478.7,814.9 L481.2,814.3 L483.7,813.7 L486.2,813.1 L488.8,812.5 L491.3,811.8 L493.8,811.1 L496.4,810.4 L498.9,809.6 L501.4,808.9 L503.9,808.1 L506.5,807.3 L509.0,806.4 L511.5,805.6 L514.0,804.7 L516.6,803.8 L519.1,802.9 L521.6,802.0 L524.1,801.1 L526.7,800.2 L529.2,799.2 L531.7,798.3 L534.3,797.4 L536.8,796.4 L539.3,795.5 L541.8,794.5 L544.4,793.6 L546.9,792.6 L549.4,791.7 L551.9,790.7 L554.5,789.7 L557.0,788.8 L559.5,787.8 L562.0,786.8 L564.6,785.8 L567.1,784.7 L569.6,783.7 L572.2,782.6 L574.7,781.5 L577.2,780.4 L579.7,779.2 L582.3,778.0 L584.8,776.8 L587.3,775.5 L589.8,774.2 L592.4,772.8 L594.9,771.4 L597.4,770.0 L599.9,768.6 L602.5,767.1 L605.0,765.6 L607.5,764.0 L610.1,762.4 L612.6,760.8 L615.1,759.2 L617.6,757.5 L620.2,755.7 L622.7,754.0 L625.2,752.2 L627.7,750.3 L630.3,748.4 L632.8,746.4 L635.3,744.4 L637.8,742.3 L640.4,740.1 L642.9,737.8 L645.4,735.5 L648.0,733.0 L650.5,730.6 L653.0,728.0 L655.5,725.4 L658.1,722.8 L660.6,720.1 L663.1,717.4 L665.6,714.6 L668.2,711.8 L670.7,709.1 L673.2,706.3 L675.7,703.5 L678.3,700.7 L680.8,697.9 L683.3,695.1 L685.9,692.2 L688.4,689.3 L690.9,686.3 L693.4,683.3 L696.0,680.2 L698.5,677.0 L701.0,673.6 L703.5,670.2 L706.1,666.6 L708.6,663.0 L711.1,659.2 L713.6,655.3 L716.2,651.3 L718.7,647.2 L721.2,643.0 L723.8,638.7 L726.3,634.3 L728.8,629.8 L731.3,625.2 L733.9,620.6 L736.4,615.9 L738.9,611.1 L741.4,606.3 L744.0,601.4 L746.5,596.4 L749.0,591.5 L751.5,586.5 L754.1,581.5 L756.6,576.5 L759.1,571.5 L761.7,566.5 L764.2,561.5 L766.7,556.6 L769.2,551.6 L771.8,546.8 L774.3,542.0 L776.8,537.2 L779.3,532.6 L781.9,528.0 L784.4,523.5 L786.9,519.1 L789.4,514.8 L792.0,510.7 L794.5,506.7 L797.0,502.8 L799.6,499.2 L802.1,495.7 L804.6,492.4 L807.1,489.5 L809.7,486.8 L812.2,484.4 L814.7,482.4 L817.2,480.8 L819.8,479.6 L822.3,478.8 L824.8,478.5 L827.3,478.7 L829.9,479.4 L832.4,480.5 L834.9,482.0 L837.5,483.9 L840.0,486.1 L842.5,488.6 L845.0,491.4 L847.6,494.4 L850.1,497.6 L852.6,500.9 L855.1,504.4 L857.7,508.0 L860.2,511.7 L862.7,515.5 L865.2,519.4 L867.8,523.4 L870.3,527.5 L872.8,531.7 L875.4,536.1 L877.9,540.6 L880.4,545.3 L882.9,550.1 L885.5,555.0 L888.0,560.1 L890.5,565.3 L893.0,570.7 L895.6,576.3 L898.1,582.0 L900.6,587.9 L903.1,594.0 L905.7,600.3 L908.2,606.7 L910.7,613.3 L913.3,620.2 L915.8,627.2 L918.3,634.4 L920.8,641.8 L923.4,649.4 L925.9,657.1 L928.4,665.0 L930.9,672.9 L933.5,680.9 L936.0,689.0 L938.5,697.1 L941.0,705.2 L943.6,713.4 L946.1,721.5 L948.6,729.6 L951.2,737.6 L953.7,745.6 L956.2,753.5 L958.7,761.3 L961.3,769.0 L963.8,776.5 L966.3,784.0 L968.8,791.3 L971.4,798.5 L973.9,805.5 L976.4,812.4 L978.9,819.1 L981.5,825.6 L984.0,831.9 L986.5,838.0 L989.1,844.0 L991.6,849.8 L994.1,855.4 L996.6,860.9 L999.2,866.2 L1001.7,871.3 L1004.2,876.3 L1006.7,881.1 L1009.3,885.8 L1011.8,890.2 L1014.3,894.6 L1016.8,898.8 L1019.4,902.8 L1021.9,906.7 L1024.4,910.5 L1027.0,914.1 L1029.5,917.6 L1032.0,920.9 L1034.5,924.1 L1037.1,927.2 L1039.6,930.1 L1042.1,933.0 L1044.6,935.7 L1047.2,938.3 L1049.7,940.7 L1052.2,943.1 L1054.7,945.4 L1057.3,947.5 L1059.8,949.6 L1062.3,951.5 L1064.9,953.4 L1067.4,955.2 L1069.9,956.9 L1072.4,958.5 L1075.0,960.1 L1077.5,961.6 L1080.0,963.0 L1082.5,964.3 L1085.1,965.6 L1087.6,966.8 L1090.1,968.0 L1092.6,969.1 L1095.2,970.2 L1097.7,971.2 L1100.2,972.2 L1102.8,973.1 L1105.3,974.0 L1107.8,974.9 L1110.3,975.7 L1112.9,976.5 L1115.4,977.3 L1117.9,978.0 L1120.4,978.7 L1123.0,979.4 L1125.5,980.1 L1128.0,980.8 L1130.5,981.5 L1133.1,982.1 L1135.6,982.7 L1138.1,983.4 L1140.7,984.0 L1143.2,984.5 L1145.7,985.1 L1148.2,985.6 L1150.8,986.1 L1153.3,986.6 L1155.8,987.1 L1158.3,987.5 L1160.9,987.9 L1163.4,988.3 L1165.9,988.6 L1168.4,988.9 L1171.0,989.2 L1173.5,989.5 L1176.0,989.7 L1178.6,990.0 L1181.1,990.2 L1183.6,990.4 L1186.1,990.7 L1188.7,990.9 L1191.2,991.1 L1193.7,991.4 L1196.2,991.6 L1198.8,991.8 L1201.3,992.0 L1203.8,992.3 L1206.3,992.5 L1208.9,992.7 L1211.4,992.8 L1213.9,993.0 L1216.5,993.2 L1219.0,993.3 L1221.5,993.4 L1224.0,993.5 L1226.6,993.6 L1229.1,993.7 L1231.6,993.7 L1234.1,993.8 L1236.7,993.8 L1239.2,993.9 L1241.7,993.9 L1244.2,994.0 L1246.8,994.0 L1249.3,994.1 L1251.8,994.2 L1254.4,994.3 L1256.9,994.4 L1259.4,994.5 L1261.9,994.6 L1264.5,994.8 L1267.0,994.9 L1269.5,995.0 L1272.0,995.2 L1274.6,995.3 L1277.1,995.4 L1279.6,995.5 L1282.1,995.6 L1284.7,995.7 L1287.2,995.8 L1289.7,995.8 L1292.3,995.9 L1294.8,996.0 L1297.3,996.0 L1299.8,996.1 L1302.4,996.1 L1304.9,996.2 L1307.4,996.2 L1309.9,996.3 L1312.5,996.4 L1315.0,996.4 L1317.5,996.5 L1320.0,996.6 L1322.6,996.6 L1325.1,996.7 L1327.6,996.7 L1330.2,996.8 L1332.7,996.9 L1335.2,996.9 L1337.7,997.0 L1340.3,997.0 L1342.8,997.0 L1345.3,997.1 L1347.8,997.1 L1350.4,997.1 L1352.9,997.1 L1355.4,997.1 L1357.9,997.2 L1360.5,997.2 L1363.0,997.2 L1365.5,997.2 L1368.1,997.2 L1370.6,997.2 L1373.1,997.2 L1375.6,997.2 L1378.2,997.2 L1380.7,997.3 L1383.2,997.3 L1385.7,997.3 L1388.3,997.3 L1390.8,997.3 L1393.3,997.3 L1395.8,997.4 L1398.4,997.4 L1400.9,997.4 L1403.4,997.4 L1406.0,997.4 L1408.5,997.5 L1411.0,997.5 L1413.5,997.5 L1416.1,997.5 L1418.6,997.5 L1421.1,997.5 L1423.6,997.6 L1426.2,997.6 L1428.7,997.6 L1431.2,997.6 L1433.7,997.6 L1436.3,997.6 L1438.8,997.6 L1441.3,997.6 L1443.9,997.6 L1446.4,997.7 L1448.9,997.7 L1451.4,997.7 L1454.0,997.7 L1456.5,997.7 L1459.0,997.7 L1461.5,997.7 L1464.1,997.7 L1466.6,997.7 L1469.1,997.7 L1471.6,997.7 L1474.2,997.7 L1476.7,997.7 L1479.2,997.8 L1481.8,997.8 L1484.3,997.8 L1486.8,997.8 L1489.3,997.8 L1491.9,997.8 L1494.4,997.8 L1496.9,997.8 L1499.4,997.8 L1502.0,997.8 L1504.5,997.9 L1507.0,997.9 L1509.5,997.9 L1512.1,997.9 L1514.6,997.9 L1517.1,997.9 L1519.7,997.9 L1522.2,997.9 L1524.7,997.9 L1527.2,997.9 L1529.8,997.9 L1532.3,997.9 L1534.8,997.9 L1537.3,997.9 L1539.9,997.9 L1542.4,997.9 L1544.9,997.9 L1547.4,997.9 L1550.0,998.0 L1552.5,998.0 L1554.8,998.0 L1557.1,998.1 L1559.4,998.1 L1561.7,998.2 L1564.0,998.2 L1566.2,998.3 L1568.5,998.3 L1570.8,998.4 L1573.1,998.4 L1575.4,998.5 L1577.7,998.5 L1580.0,998.6" fill="none" stroke="#10aa55" stroke-width="1.9" stroke-linejoin="round"/>
<path d="M189.0,863.0 L202.8,877.3 L189.0,891.5 L175.2,877.3Z" fill="#008000"/><path d="M218.4,856.8 L232.2,871.0 L218.4,885.2 L204.7,871.0Z" fill="#008000"/><path d="M248.7,851.2 L262.5,865.5 L248.7,879.8 L235.0,865.5Z" fill="#008000"/><path d="M279.1,846.0 L292.8,860.3 L279.1,874.5 L265.3,860.3Z" fill="#008000"/><path d="M309.4,838.8 L323.1,853.0 L309.4,867.2 L295.6,853.0Z" fill="#008000"/><path d="M339.7,835.0 L353.4,849.3 L339.7,863.5 L325.9,849.3Z" fill="#008000"/><path d="M370.0,832.0 L383.8,846.2 L370.0,860.5 L356.3,846.2Z" fill="#008000"/><path d="M400.3,828.4 L414.1,842.6 L400.3,856.9 L386.6,842.6Z" fill="#008000"/><path d="M430.7,817.5 L444.4,831.7 L430.7,846.0 L416.9,831.7Z" fill="#008000"/><path d="M461.0,805.4 L474.7,819.6 L461.0,833.9 L447.2,819.6Z" fill="#008000"/><path d="M491.3,797.5 L505.1,811.8 L491.3,826.0 L477.6,811.8Z" fill="#008000"/><path d="M521.6,787.8 L535.4,802.0 L521.6,816.2 L507.9,802.0Z" fill="#008000"/><path d="M551.9,776.5 L565.7,790.7 L551.9,805.0 L538.2,790.7Z" fill="#008000"/><path d="M582.3,763.8 L596.0,778.0 L582.3,792.2 L568.5,778.0Z" fill="#008000"/><path d="M612.6,746.5 L626.3,760.8 L612.6,775.0 L598.8,760.8Z" fill="#008000"/><path d="M642.9,723.5 L656.6,737.8 L642.9,752.0 L629.1,737.8Z" fill="#008000"/><path d="M673.2,692.0 L687.0,706.3 L673.2,720.5 L659.5,706.3Z" fill="#008000"/><path d="M703.5,656.0 L717.3,670.2 L703.5,684.5 L689.8,670.2Z" fill="#008000"/><path d="M733.9,606.4 L747.6,620.6 L733.9,634.9 L720.1,620.6Z" fill="#008000"/><path d="M764.2,547.2 L777.9,561.5 L764.2,575.8 L750.4,561.5Z" fill="#008000"/><path d="M794.5,492.4 L808.2,506.7 L794.5,521.0 L780.8,506.7Z" fill="#008000"/><path d="M824.8,464.2 L838.6,478.5 L824.8,492.8 L811.1,478.5Z" fill="#008000"/><path d="M855.1,490.1 L868.9,504.4 L855.1,518.6 L841.4,504.4Z" fill="#008000"/><path d="M885.5,540.8 L899.2,555.0 L885.5,569.2 L871.7,555.0Z" fill="#008000"/><path d="M915.8,613.0 L929.5,627.2 L915.8,641.5 L902.0,627.2Z" fill="#008000"/><path d="M946.1,707.2 L959.8,721.5 L946.1,735.8 L932.3,721.5Z" fill="#008000"/><path d="M976.4,798.1 L990.2,812.4 L976.4,826.6 L962.7,812.4Z" fill="#008000"/><path d="M1006.7,866.9 L1020.5,881.1 L1006.7,895.4 L993.0,881.1Z" fill="#008000"/><path d="M1037.1,913.0 L1050.8,927.2 L1037.1,941.5 L1023.3,927.2Z" fill="#008000"/><path d="M1067.4,941.0 L1081.1,955.2 L1067.4,969.5 L1053.6,955.2Z" fill="#008000"/><path d="M1097.7,957.0 L1111.5,971.2 L1097.7,985.5 L1084.0,971.2Z" fill="#008000"/><path d="M1128.0,966.5 L1141.8,980.8 L1128.0,995.0 L1114.3,980.8Z" fill="#008000"/><path d="M1158.3,973.2 L1172.1,987.5 L1158.3,1001.8 L1144.6,987.5Z" fill="#008000"/><path d="M1188.7,976.6 L1202.4,990.9 L1188.7,1005.1 L1174.9,990.9Z" fill="#008000"/><path d="M1219.0,979.0 L1232.7,993.3 L1219.0,1007.5 L1205.2,993.3Z" fill="#008000"/><path d="M1249.3,979.9 L1263.0,994.1 L1249.3,1008.4 L1235.5,994.1Z" fill="#008000"/><path d="M1279.6,981.2 L1293.4,995.5 L1279.6,1009.8 L1265.9,995.5Z" fill="#008000"/><path d="M1309.9,982.0 L1323.7,996.3 L1309.9,1010.5 L1296.2,996.3Z" fill="#008000"/><path d="M1340.3,982.8 L1354.0,997.0 L1340.3,1011.2 L1326.5,997.0Z" fill="#008000"/><path d="M1370.6,983.0 L1384.3,997.2 L1370.6,1011.5 L1356.8,997.2Z" fill="#008000"/><path d="M1400.9,983.1 L1414.6,997.4 L1400.9,1011.6 L1387.1,997.4Z" fill="#008000"/><path d="M1431.2,983.4 L1445.0,997.6 L1431.2,1011.9 L1417.5,997.6Z" fill="#008000"/><path d="M1461.5,983.5 L1475.3,997.7 L1461.5,1012.0 L1447.8,997.7Z" fill="#008000"/><path d="M1491.9,983.5 L1505.6,997.8 L1491.9,1012.0 L1478.1,997.8Z" fill="#008000"/><path d="M1522.2,983.6 L1535.9,997.9 L1522.2,1012.1 L1508.4,997.9Z" fill="#008000"/><path d="M1552.5,983.8 L1566.2,998.0 L1552.5,1012.2 L1538.8,998.0Z" fill="#008000"/>
</g>
<rect x="188.0" y="41.5" width="1414.0" height="1000.0" fill="none" stroke="#000" stroke-width="4"/>
<path d="M188.0,998.0 H209.5 M188.0,780.6 H209.5 M188.0,563.2 H209.5 M188.0,345.8 H209.5 M188.0,128.5 H209.5 M188.0,889.3 H200.0 M188.0,671.9 H200.0 M188.0,454.5 H200.0 M188.0,237.2 H200.0 M188.0,1041.5 V1021.0 M390.0,1041.5 V1021.0 M592.0,1041.5 V1021.0 M794.0,1041.5 V1021.0 M996.0,1041.5 V1021.0 M1198.0,1041.5 V1021.0 M1400.0,1041.5 V1021.0 M1602.0,1041.5 V1021.0 M289.0,1041.5 V1030.0 M491.0,1041.5 V1030.0 M693.0,1041.5 V1030.0 M895.0,1041.5 V1030.0 M1097.0,1041.5 V1030.0 M1299.0,1041.5 V1030.0 M1501.0,1041.5 V1030.0" stroke="#000" stroke-width="4" fill="none"/>
<g font-family="Liberation Serif, serif" font-weight="bold" font-size="37.5" fill="#000"><text x="168.5" y="1008.6" text-anchor="end">0</text><text x="168.5" y="791.2" text-anchor="end">50</text><text x="168.5" y="573.8" text-anchor="end">100</text><text x="168.5" y="356.4" text-anchor="end">150</text><text x="168.5" y="139.1" text-anchor="end">200</text><text x="188.0" y="1090" text-anchor="middle">0</text><text x="390.0" y="1090" text-anchor="middle">20</text><text x="592.0" y="1090" text-anchor="middle">40</text><text x="794.0" y="1090" text-anchor="middle">60</text><text x="996.0" y="1090" text-anchor="middle">80</text><text x="1198.0" y="1090" text-anchor="middle">100</text><text x="1400.0" y="1090" text-anchor="middle">120</text><text x="1602.0" y="1090" text-anchor="middle">140</text></g>
<g font-family="Liberation Serif, serif" font-size="45.4" fill="#000"><text x="739" y="1163.8" font-weight="bold">Temperature</text><text x="992.5" y="1163.8">/</text><text x="1003.5" y="1163.8">°</text><text x="1021" y="1163.8" font-weight="bold">C</text></g>
<text transform="translate(80.5,568.3) rotate(-90)" x="0" y="0" text-anchor="middle" font-family="Liberation Serif, serif" font-weight="bold" font-size="45" fill="#000">Loss Modulus<tspan font-weight="normal">/</tspan>MPa</text>
<path d="M1041.7,129.5 H1144.3" stroke="#333" stroke-width="2"/>
<rect x="1082.1" y="119.0" width="21" height="21" fill="#000"/>
<text x="1157.6" y="144.3" font-family="Liberation Serif, serif" font-size="45" fill="#000">P(BMA-co-1wt% St)</text>
<path d="M1042.4,183.5 H1144.3" stroke="#ff2020" stroke-width="2"/>
<circle cx="1094.2" cy="183.5" r="11.3" fill="#f00"/>
<text x="1157.6" y="197.0" font-family="Liberation Serif, serif" font-size="45" fill="#000">C9-10%</text>
<path d="M1043.9,235.2 H1147.1" stroke="#4040ff" stroke-width="2"/>
<path d="M1095.9,220.1 L1109.8,242.7 L1082.0,242.7Z" fill="#00f"/>
<text x="1158.5" y="250.5" font-family="Liberation Serif, serif" font-size="45" fill="#000">C9-20%</text>
<path d="M1046.5,283.6 H1149.7" stroke="#ff20ff" stroke-width="2"/>
<path d="M1082.9,275.0 L1110.7,275.0 L1096.8,300.7Z" fill="#f0f"/>
<text x="1161.1" y="299.5" font-family="Liberation Serif, serif" font-size="45" fill="#000">C9-30%</text>
<path d="M1046.8,336.2 H1149.5" stroke="#8fd8b0" stroke-width="4"/>
<path d="M1098.2,321.4 L1111.2,336.2 L1098.2,350.9 L1085.2,336.2Z" fill="#008000"/>
<text x="1162.0" y="351.0" font-family="Liberation Serif, serif" font-size="45" fill="#000">C9-50%</text>
</svg></body></html>
